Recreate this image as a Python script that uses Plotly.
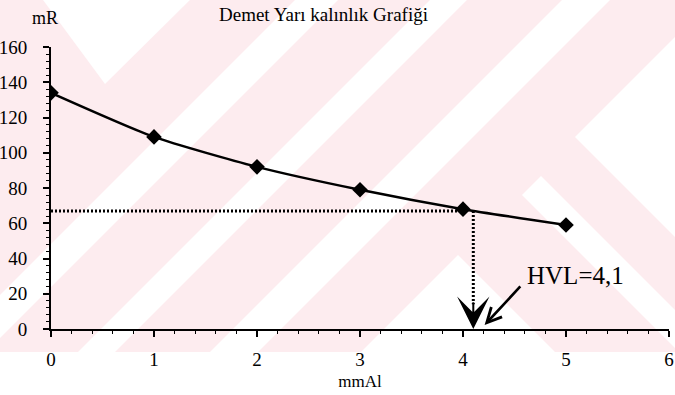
import plotly.graph_objects as go

# Beam half-value-layer measurement: exposure (mR) vs aluminium filter thickness (mm Al)
thickness_mm = [0, 1, 2, 3, 4, 5]
exposure_mR = [134, 109, 92, 79, 68, 59]
half_exposure = 67          # half of the unfiltered exposure
hvl_mm = 4.1                # thickness where the curve reaches half exposure
x_ticks = [0, 1, 2, 3, 4, 5, 6]
y_ticks = [0, 20, 40, 60, 80, 100, 120, 140, 160]

FONT = "Liberation Serif, Times New Roman, serif"
PINK = "#fdecef"

# page geometry (pixels) used to place the background watermark
W_PX, H_PX = 675, 395
M_L, M_R, M_T, M_B = 51, 6, 47, 66
PLOT_W = W_PX - M_L - M_R
PLOT_H = H_PX - M_T - M_B


def to_paper(px, py):
    return (px - M_L) / PLOT_W, (H_PX - M_B - py) / PLOT_H


def poly_path(points):
    pts = [to_paper(x, y) for x, y in points]
    return "M " + " L ".join(f"{x:.4f},{y:.4f}" for x, y in pts) + " Z"


def diag_band(c0, c1, y_bot):
    # white "/" band between the lines x + y = c0 and x + y = c1
    return [(c0 - y_bot, y_bot), (c1 - y_bot, y_bot), (c1, 0), (c0, 0)]


# diagonal watermark band pattern behind the chart
band_bottom = 352
white_polys = [
    [(43, 0), (190, 0), (105, 84)],
    diag_band(295, 338, 338),
    diag_band(430, 467, band_bottom),
    diag_band(562, 610, band_bottom),
    [(575, 137), (675, 37), (675, 237)],
    [(522, 195), (541, 176), (675, 310), (675, 348)],
    [(458, 255), (361, band_bottom), (555, band_bottom)],
]

shapes = [dict(type="path", path=poly_path([(0, 0), (W_PX, 0), (W_PX, band_bottom), (0, band_bottom)]),
               xref="paper", yref="paper", fillcolor=PINK, line=dict(width=0), layer="below")]
for poly in white_polys:
    shapes.append(dict(type="path", path=poly_path(poly), xref="paper", yref="paper",
                       fillcolor="white", line=dict(width=0), layer="below"))

fig = go.Figure()

dotted = dict(color="black", width=3, dash="2px,2px")

# dotted guide: half exposure level across to the curve
fig.add_trace(go.Scatter(
    x=[0, thickness_mm[4]], y=[half_exposure, half_exposure], mode="lines",
    line=dotted, hoverinfo="skip"))

# dotted guide: down from the curve to the HVL thickness
fig.add_trace(go.Scatter(
    x=[hvl_mm, hvl_mm], y=[half_exposure, 14], mode="lines",
    line=dotted, hoverinfo="skip"))

# measured attenuation curve
fig.add_trace(go.Scatter(
    x=thickness_mm, y=exposure_mR, mode="lines+markers",
    line=dict(color="black", width=2.5, shape="spline", smoothing=0.6),
    marker=dict(symbol="diamond", size=12, color="black")))

annotations = [
    # big arrowhead marking the HVL on the axis
    dict(x=hvl_mm, y=0, ax=hvl_mm, ay=16, xref="x", yref="y", axref="x", ayref="y",
         text="", showarrow=True, arrowhead=3, arrowsize=2.7, arrowwidth=2, arrowcolor="black"),
    # pointer from the label
    dict(x=4.21, y=2.3, ax=4.57, ay=25, xref="x", yref="y", axref="x", ayref="y",
         text="", showarrow=True, arrowhead=5, arrowsize=1.1, arrowwidth=2.6, arrowcolor="black"),
    dict(x=5.09, y=30.6, xref="x", yref="y", text="HVL=4,1", showarrow=False,
         xanchor="center", yanchor="middle",
         font=dict(family=FONT, size=25, color="black")),
    dict(x=to_paper(323, 0)[0], y=to_paper(0, 14)[1], xref="paper", yref="paper",
         text="Demet Yarı kalınlık Grafiği", showarrow=False,
         xanchor="center", yanchor="middle",
         font=dict(family=FONT, size=19, color="black")),
    dict(x=to_paper(45, 0)[0], y=to_paper(0, 18)[1], xref="paper", yref="paper",
         text="mR", showarrow=False, xanchor="center", yanchor="middle",
         font=dict(family=FONT, size=18, color="black")),
]

fig.update_layout(
    width=W_PX, height=H_PX,
    margin=dict(l=M_L, r=M_R, t=M_T, b=M_B, autoexpand=False),
    paper_bgcolor="white", plot_bgcolor="rgba(0,0,0,0)",
    showlegend=False,
    shapes=shapes, annotations=annotations,
    font=dict(family=FONT, color="black"),
)

fig.update_xaxes(
    range=[0, 6], tickvals=x_ticks, ticktext=[str(v) for v in x_ticks],
    showgrid=False, zeroline=False, showline=True, linecolor="black", linewidth=2,
    ticks="outside", ticklen=6, tickwidth=1.5, tickcolor="black",
    minor=dict(dtick=0.2, ticks="outside", ticklen=3, tickwidth=1, tickcolor="black"),
    tickfont=dict(family=FONT, size=19, color="black"), ticklabelstandoff=6,
    title=dict(text="mmAl", font=dict(family=FONT, size=17, color="black"), standoff=6),
    automargin=False,
)

fig.update_yaxes(
    range=[0, 160], tickvals=y_ticks, ticktext=[str(v) for v in y_ticks],
    showgrid=False, zeroline=False, showline=True, linecolor="black", linewidth=2,
    ticks="outside", ticklen=6, tickwidth=1.5, tickcolor="black",
    minor=dict(dtick=4, ticks="outside", ticklen=3, tickwidth=1, tickcolor="black"),
    tickfont=dict(family=FONT, size=19, color="black"), ticklabelstandoff=12,
    automargin=False,
)

fig.write_html("out.html")
